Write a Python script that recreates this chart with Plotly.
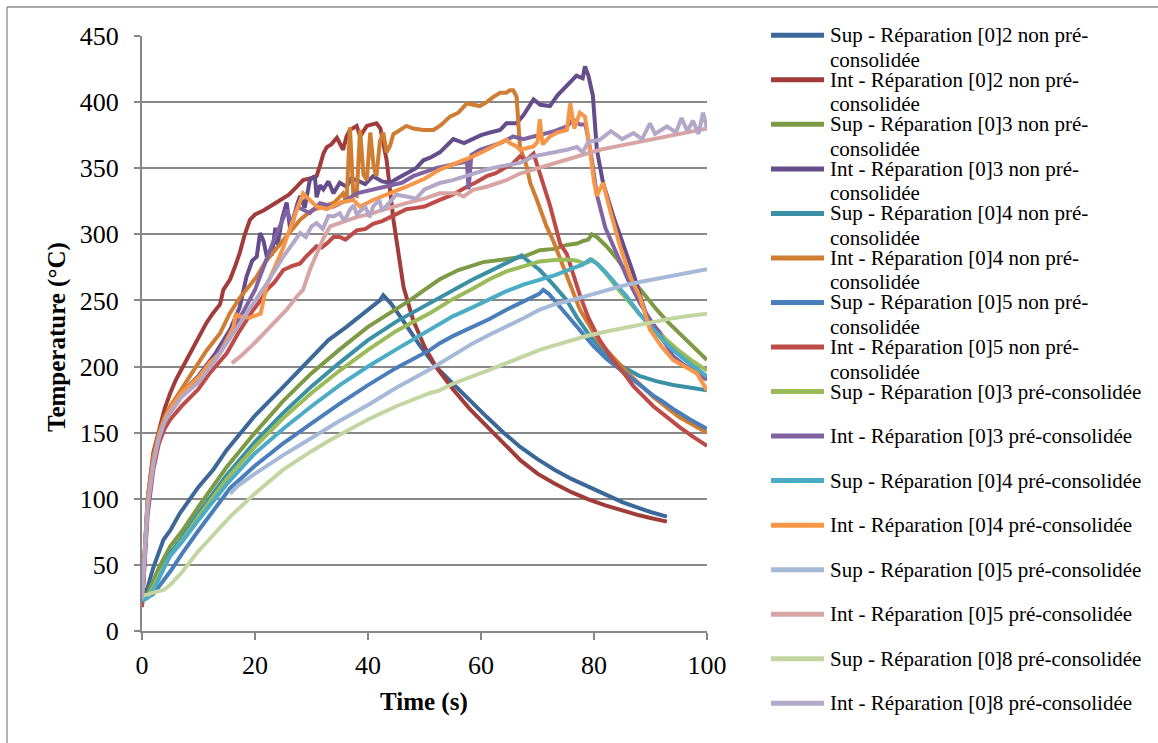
import plotly.graph_objects as go

# ---------------------------------------------------------------
# Temperature records (time in s, temperature in °C)
# ---------------------------------------------------------------
t_sup2_nc = [0, 1, 2, 3.8, 5, 6.7, 10, 12.6, 15, 18.5, 20, 24.4, 28, 30.3, 33, 36.2, 40, 42.1, 42.7, 44, 46, 49,
             52, 55, 58, 61, 64, 67, 70, 73, 76, 79, 82, 85, 88, 90, 92.9]
T_sup2_nc = [25, 33, 48, 69, 76, 89, 109, 122, 137, 155, 163, 182, 198, 208, 220, 230, 243, 250, 254, 248, 236, 217,
             200, 187, 174, 162, 150, 139, 130, 122, 115, 109, 103, 97.5, 93, 90, 86.5]

t_int2_nc = [0, 0.5, 1, 2, 3, 4, 5, 6, 7, 8, 9.7, 11.4, 12.5, 13.8, 14.4, 15.6, 16.5, 17.3, 18.2, 19.1, 20, 21.5,
             23, 24.4, 26, 27.4, 28.5, 29.5, 30.9, 31.5, 32.1, 32.7, 33.5, 34.5, 35.6, 36.2, 36.8, 38, 38.6, 39.2,
             39.8, 40.6, 41.5, 42.2, 43.3, 44.5, 45.5, 46.3, 48, 50, 52, 55, 58, 61, 64, 67, 70, 73, 76, 79, 82, 85,
             88, 90, 92.9]
T_int2_nc = [20, 60, 100, 135, 152, 168, 180, 190, 198, 206, 220, 233, 240, 247, 258, 266, 276, 286, 300, 311, 315,
             318, 322, 326, 330, 336, 341, 342, 344, 352, 361, 366, 368, 373, 364, 374, 379, 382, 374, 378, 382, 383,
             384, 380, 356, 311, 280, 260, 235, 215, 200, 183, 168, 155, 141, 129, 119, 111.5, 105, 99.5, 95, 91,
             87.5, 85.5, 82.7]

t_sup3_nc = [0, 1, 2, 3, 5, 7, 10, 15, 20, 25, 30, 35, 40, 45, 47.4, 50, 52.7, 56, 60.4, 64, 67.5, 70.4, 73, 75.2,
             77, 78.1, 79, 79.6, 80.5, 82.2, 84, 85.8, 88, 91.1, 93, 95.2, 97.5, 100]
T_sup3_nc = [25, 28, 38, 48, 64, 75, 94, 124, 150, 174, 195, 213, 230, 243, 250, 258, 266, 273, 279, 281, 283, 288,
             289, 292, 293, 295, 296, 300, 298, 291, 282, 271, 259, 243, 234, 225, 215, 205]

t_int3_nc = [0, 0.5, 1, 2, 3, 4, 5, 7, 10, 13, 15.6, 17.3, 18.5, 19.5, 20.3, 20.9, 21.5, 22.1, 23, 23.6, 24, 24.8,
             25.6, 26.2, 26.8, 27.4, 28, 28.8, 29.7, 30.6, 30.9, 31.5, 32.1, 33, 33.9, 35, 36.2, 37, 38, 39.5, 40.9,
             42.5, 43.9, 45.5, 46.8, 48.5, 49.8, 51, 52.7, 54, 55.1, 57, 58.6, 60, 61.6, 63.4, 64.5, 66.3, 67.5,
             69.3, 70.5, 72.2, 73.5, 75.2, 76.9, 78, 78.4, 79, 79.8, 80.5, 81.6, 83.4, 85.2, 87, 89.3, 91.5, 94, 97,
             100]
T_int3_nc = [20, 55, 95, 128, 148, 160, 168, 180, 193, 210, 228, 245, 268, 280, 283, 301, 295, 283, 285, 305, 292,
             312, 324, 305, 311, 322, 329, 320, 341, 344, 328, 337, 334, 340, 331, 339, 336, 342, 341, 338, 344, 340,
             339, 343, 346, 350, 356, 358, 362, 367, 372, 369, 372, 375, 377, 379, 384, 384, 390, 402, 398, 397, 405,
             412, 420, 418, 427, 420, 405, 364, 339, 314, 291, 270, 238, 226, 213, 202, 192]

t_sup4_nc = [0, 1, 2, 3, 5, 7, 10, 15, 20, 25, 30, 35, 40, 45, 51, 52.7, 55, 58.6, 61.5, 64.5, 66, 67.2, 68, 70.4,
             72.8, 75.2, 77, 79.3, 82, 85, 88, 91, 94, 97, 100]
T_sup4_nc = [24, 26, 33, 42, 59, 70, 89, 118, 143, 165, 185, 203, 220, 234, 248, 252, 258, 266, 272, 278, 281, 284,
             281, 273, 262, 250, 237, 223, 210, 200, 193, 189, 186, 184, 182]

t_int4_nc = [0, 0.5, 1, 2, 3, 4, 5, 7, 10, 11.4, 13.8, 15.5, 17.3, 18.8, 20.3, 22, 25, 28, 30, 32, 34, 35.6, 36.2,
             36.8, 37.4, 38, 38.6, 39.2, 39.8, 40.4, 41, 41.5, 42.1, 42.7, 43.3, 43.9, 44.5, 45, 46, 46.8, 48, 49.8,
             51.6, 53, 54.5, 56, 57.5, 59.8, 61, 62.2, 63.4, 64.5, 65.1, 65.7, 66.3, 66.9, 68.1, 68.7, 69.9, 71.6,
             72.8, 75.2, 77.5, 81, 85.8, 90.5, 95, 100]
T_int4_nc = [22, 60, 100, 132, 150, 162, 170, 183, 203, 212, 225, 240, 252, 260, 268, 280, 296, 311, 318, 321, 324,
             331, 324, 381, 330, 329, 379, 345, 341, 377, 351, 344, 370, 377, 362, 367, 376, 377, 380, 382, 380, 379,
             379, 383, 389, 392, 399, 397, 400, 404, 407, 407, 409, 409, 404, 366, 351, 339, 326, 306, 295, 268, 243,
             218, 196, 177, 162, 150]

t_sup5_nc = [0, 2, 5, 7, 10, 15.6, 20, 25, 30, 35, 40, 45, 51, 52.7, 55, 58.6, 61.5, 64.5, 67, 69.3, 70.3, 71, 72, 74,
             75.8, 77.5, 80, 82.2, 84.6, 86.5, 88.1, 90.5, 92, 94, 97, 100]
T_sup5_nc = [23, 28, 45, 58, 76, 108, 125, 142, 157, 172, 186, 199, 212.6, 217.7, 223, 230, 236, 243, 248, 253, 255,
             258, 255, 245, 236, 228, 215, 206, 198, 192, 186, 178, 174, 168, 160, 153]

t_int5_nc = [0, 0.5, 1, 2, 3, 4, 5, 7, 10, 12, 15, 17, 19.7, 21, 22.1, 23.5, 25, 26.5, 28, 29, 29.7, 30.9, 31.8, 32.7,
             33.9, 35, 36, 37, 38, 39.5, 40.9, 42.5, 43.9, 45.5, 46.8, 48.5, 50, 52.7, 55, 57.5, 59, 61, 62.5, 64.5,
             65.5, 66.9, 68, 69.3, 70.4, 72.2, 74, 75.2, 77.5, 79, 81, 83.4, 85.8, 87, 90.5, 93, 95.2, 97.5, 100]
T_int5_nc = [18, 50, 88, 122, 142, 153, 160, 170, 183, 195, 210, 225, 243, 250, 258, 264, 273, 276, 278, 283, 286, 291,
             290, 293, 298, 298, 296, 300, 303, 304, 308, 310, 313, 317, 319, 320, 321, 326, 330, 336, 339, 344, 346,
             351, 353, 359, 356, 361, 346, 322, 293, 285, 254, 237, 220, 205, 192, 185, 170, 161, 154, 147, 140]

t_sup3_pc = [0, 1, 2, 3, 5, 7, 10, 15, 20, 25, 30, 35, 40, 45, 51, 52.7, 55, 58.6, 61.5, 64.5, 67.5, 70.4, 73, 75.2,
             77, 78.1, 79, 79.6, 80.5, 82.2, 84, 86, 88, 90.5, 93, 95, 97.5, 100]
T_sup3_pc = [24, 26, 33, 42, 57, 68, 86.5, 115, 139.5, 161, 180, 197, 212.6, 227, 240.5, 245, 251, 259, 266, 272, 276,
             279.5, 280.5, 281, 280, 278, 279, 281, 278, 270, 260, 250, 240, 229, 219, 212, 204, 197]

t_int3_pc = [0, 0.5, 1, 2, 3, 4, 5, 7, 10, 13, 16, 18, 20, 22, 23, 24.4, 25.6, 26.5, 27.4, 29.7, 31.5, 33.9, 36.2, 38,
             40, 42, 44, 46, 48, 50, 52, 54, 56, 57.5, 57.8, 58.3, 59.8, 61.5, 63.4, 65.7, 67.5, 69.3, 71, 73, 75.2,
             76.3, 77.5, 78.5, 79.5, 80.5, 82, 84, 86, 88.1, 91, 94, 96, 98.2, 100]
T_int3_pc = [24, 58, 96, 127, 147, 159, 166, 178, 190, 207, 228, 242, 258, 282, 292, 306, 318.6, 308, 321, 316, 323.6,
             321, 326, 331, 333, 335, 337, 339, 344, 347, 350, 352, 354, 355, 334, 360, 364, 366, 369, 374, 372, 374,
             376, 378, 381.6, 386.7, 383, 383, 360, 330, 305, 285, 266, 248, 228, 208, 201, 195, 190]

t_sup4_pc = [0, 1, 2, 3, 5, 7, 10, 15, 20, 25, 30, 35, 40, 45, 51, 52.7, 55, 58.6, 61.5, 64.5, 67.5, 70.4, 73, 76.3,
             78, 79.3, 80.5, 82.2, 84, 85.8, 88, 90.5, 92, 94, 97, 100]
T_sup4_pc = [23, 25, 31, 40, 57, 67, 84, 111, 134.5, 153, 170, 186, 200, 213, 228, 233, 238, 245, 251, 257, 262,
             265.6, 269, 274.5, 277, 281, 278, 270.7, 262, 253, 240, 228, 221, 212.6, 202, 192.5]

t_int4_pc = [0, 0.5, 1, 2, 3, 4, 5, 7, 10, 12, 13.8, 15, 16.2, 16.6, 17, 19, 21, 21.5, 22.1, 23.5, 25, 26, 26.8, 27.6,
             28.5, 29.7, 30.9, 32.7, 35, 37.4, 38.6, 40.9, 43.9, 46.8, 50, 52.7, 55.7, 58.6, 61, 63.4, 64.5, 65.1,
             66.3, 66.9, 68, 69.3, 70, 70.4, 70.9, 72.2, 73.5, 75.2, 75.8, 76.5, 77.5, 78.4, 79.3, 80, 80.5, 81.6,
             82.8, 84.6, 86.4, 88.1, 89.9, 92, 94, 96, 98.2, 100]
T_int4_pc = [25, 60, 98, 128, 148, 160, 168, 180, 192, 203, 210, 220, 230, 240, 238, 237, 240, 250, 262, 275, 290,
             302, 311, 322, 331, 326, 321, 319, 324, 326, 321, 326, 331, 336, 342, 349, 354, 359, 364, 369, 371.5,
             369, 366.5, 364, 365, 366.5, 370, 387, 368, 374, 377, 379, 399, 380, 392, 389, 364, 340, 329, 339, 319,
             291, 268, 253, 228, 215, 205, 200, 195, 182]

t_sup5_pc = [15.6, 17, 20, 25, 30, 35, 40, 45, 51, 52.7, 55, 58.6, 61.5, 64.5, 67.5, 70.4, 73, 76.3, 79, 82.2, 85,
             88.1, 91, 94, 97, 100]
T_sup5_pc = [104, 110, 119, 133, 146, 159, 171, 184, 198, 202.5, 209, 217.7, 224, 230, 236.5, 243, 247, 250.5, 254,
             258, 261, 264, 266.5, 269, 271.5, 273.7]

t_int5_pc = [15.9, 17.5, 19.5, 21.5, 23.5, 25.6, 27.4, 28.5, 29.7, 30.9, 32, 33.3, 35, 36.8, 38, 40.9, 43, 46.8, 50,
             52.7, 55.7, 56.9, 58.6, 61, 64.5, 66.9, 69.3, 72, 75.2, 78, 81, 84, 87, 90, 92.9, 96, 98.8, 100]
T_int5_pc = [202.6, 208, 216, 225, 234, 243, 253, 258, 273, 286, 296, 306, 308.5, 311, 313, 316, 319, 323.6, 327,
             331, 331, 328.6, 333.7, 336, 341, 346, 349, 352.5, 356.4, 360, 364, 366.5, 369, 371.5, 374, 376.5, 379,
             380]

t_sup8_pc = [0, 1, 2, 3.8, 5, 7, 9.7, 13, 15.6, 20, 25, 30, 33.3, 40, 45, 51, 52.7, 55, 58.6, 61.5, 64.5, 67.5, 70.4,
             73, 76.3, 79, 82.2, 85, 88.1, 91, 94, 97, 100]
T_sup8_pc = [27, 27.5, 29, 31, 35, 44, 59, 74, 86.5, 104, 122, 136, 144.5, 160, 170, 180, 182, 187, 192.5, 197.5,
             202.6, 207.5, 212.6, 216, 220, 223.5, 226.5, 229, 231.5, 234, 236.6, 238.5, 240]

t_int8_pc = [0, 0.5, 1, 2, 3, 4, 5, 7, 10, 13, 16, 19, 22.1, 25, 28, 29, 30, 30.9, 32, 33, 33.9, 35, 35.8, 36.8,
             37.5, 38, 39.5, 40.3, 40.9, 42, 42.5, 44, 45, 46.8, 48.5, 50, 52.7, 55, 58.6, 61, 63.4, 66.9, 69.3, 72,
             75.2, 77, 78, 79, 81, 83, 85, 87, 88.5, 89.9, 90.8, 92.9, 94.5, 95.5, 96.5, 97.5, 98.5, 99.3, 100]
T_int8_pc = [24, 57, 94, 126, 146, 158, 165, 177, 188, 205, 224, 243, 263, 283, 301, 298, 306, 308.5, 304, 314,
             313.5, 316, 310, 318.6, 322, 315, 321, 313, 321, 326, 318, 325, 330, 328.6, 327, 334, 338.8, 341, 346,
             349, 351.4, 354, 359, 361, 364, 366, 362, 370, 371.5, 378, 372, 376.6, 372, 384, 376, 381.6, 377, 388,
             378, 386, 376, 392, 380]

series = [
    ("Sup - Réparation [0]2 non pré-consolidée", t_sup2_nc, T_sup2_nc, "#3C6799"),
    ("Int - Réparation [0]2 non pré-consolidée", t_int2_nc, T_int2_nc, "#A03D3B"),
    ("Sup - Réparation [0]3 non pré-consolidée", t_sup3_nc, T_sup3_nc, "#7D9B44"),
    ("Int - Réparation [0]3 non pré-consolidée", t_int3_nc, T_int3_nc, "#644D8A"),
    ("Sup - Réparation [0]4 non pré-consolidée", t_sup4_nc, T_sup4_nc, "#3A91A5"),
    ("Int - Réparation [0]4 non pré-consolidée", t_int4_nc, T_int4_nc, "#CF7D33"),
    ("Sup - Réparation [0]5 non pré-consolidée", t_sup5_nc, T_sup5_nc, "#4A7EBB"),
    ("Int - Réparation [0]5 non pré-consolidée", t_int5_nc, T_int5_nc, "#BE4B48"),
    ("Sup - Réparation [0]3 pré-consolidée", t_sup3_pc, T_sup3_pc, "#9BBB59"),
    ("Int - Réparation [0]3 pré-consolidée", t_int3_pc, T_int3_pc, "#8064A2"),
    ("Sup - Réparation [0]4 pré-consolidée", t_sup4_pc, T_sup4_pc, "#4BACC6"),
    ("Int - Réparation [0]4 pré-consolidée", t_int4_pc, T_int4_pc, "#F79646"),
    ("Sup - Réparation [0]5 pré-consolidée", t_sup5_pc, T_sup5_pc, "#A6B9D8"),
    ("Int - Réparation [0]5 pré-consolidée", t_int5_pc, T_int5_pc, "#D9A5A4"),
    ("Sup - Réparation [0]8 pré-consolidée", t_sup8_pc, T_sup8_pc, "#C3D6A2"),
    ("Int - Réparation [0]8 pré-consolidée", t_int8_pc, T_int8_pc, "#B3A8C8"),
]

x_ticks = [0, 20, 40, 60, 80, 100]
y_ticks = [0, 50, 100, 150, 200, 250, 300, 350, 400, 450]

# ---------------------------------------------------------------
# Page geometry (pixels)
# ---------------------------------------------------------------
W, H = 1158, 743
PL, PR, PT, PB = 142, 707, 36, 631          # plot-area edges
FONT = "Liberation Serif, Times New Roman, serif"
GRID = "#878787"


def px_x(px):
    return (px - PL) / (PR - PL)


def px_y(py):
    return (PB - py) / (PB - PT)


fig = go.Figure()
for name, tt, TT, col in series:
    fig.add_trace(go.Scatter(x=tt, y=TT, mode="lines", name=name,
                             line=dict(color=col, width=4), showlegend=False))

# Legend drawn as a column of samples with wrapped labels
shapes = []
annotations = []
LEG_Y0, LEG_DY = 35.3, 44.53
for i, (name, _, _, col) in enumerate(series):
    yc = LEG_Y0 + LEG_DY * i
    shapes.append(dict(type="line", xref="paper", yref="paper",
                       x0=px_x(771), x1=px_x(824), y0=px_y(yc), y1=px_y(yc),
                       line=dict(color=col, width=5)))
    if " non pré-" in name:
        lines = [name.split("consolidée")[0], "consolidée"]
    else:
        lines = [name]
    for k, txt in enumerate(lines):
        annotations.append(dict(text=txt, xref="paper", yref="paper",
                                x=px_x(828), y=px_y(yc + 24.5 * k),
                                xanchor="left", yanchor="middle", showarrow=False,
                                font=dict(family=FONT, size=21, color="#000000")))

# Axis titles
annotations.append(dict(text="<b>Temperature (°C)</b>", xref="paper", yref="paper",
                        x=px_x(57), y=px_y(337), textangle=-90, showarrow=False,
                        xanchor="center", yanchor="middle",
                        font=dict(family=FONT, size=25, color="#000000")))
annotations.append(dict(text="<b>Time (s)</b>", xref="paper", yref="paper",
                        x=px_x(424), y=px_y(702), showarrow=False,
                        xanchor="center", yanchor="middle",
                        font=dict(family=FONT, size=25, color="#000000")))

# Chart-area frame (top and left edges)
shapes.append(dict(type="line", xref="paper", yref="paper", x0=px_x(7), x1=px_x(W + 10),
                   y0=px_y(7), y1=px_y(7), line=dict(color="#8C8C8C", width=1.3)))
shapes.append(dict(type="line", xref="paper", yref="paper", x0=px_x(7), x1=px_x(7),
                   y0=px_y(7), y1=px_y(H + 10), line=dict(color="#8C8C8C", width=1.3)))

fig.update_layout(
    width=W, height=H, autosize=False,
    margin=dict(l=PL, r=W - PR, t=PT, b=H - PB, pad=0),
    paper_bgcolor="white", plot_bgcolor="white",
    font=dict(family=FONT, size=26, color="#000000"),
    showlegend=False,
    shapes=shapes, annotations=annotations,
    xaxis=dict(range=[0, 100], tickvals=x_ticks, ticks="outside", ticklen=7, tickwidth=2,
               tickcolor=GRID, showline=True, linecolor=GRID, linewidth=2, showgrid=False,
               zeroline=False, ticklabelstandoff=3,
               tickfont=dict(family=FONT, size=26, color="#000000")),
    yaxis=dict(range=[0, 450], tickvals=y_ticks, ticks="outside", ticklen=6, tickwidth=2,
               tickcolor=GRID, showline=True, linecolor=GRID, linewidth=2, showgrid=True,
               gridcolor=GRID, gridwidth=2, zeroline=False, ticklabelstandoff=10,
               tickfont=dict(family=FONT, size=26, color="#000000")),
)

fig.write_html("out.html")
